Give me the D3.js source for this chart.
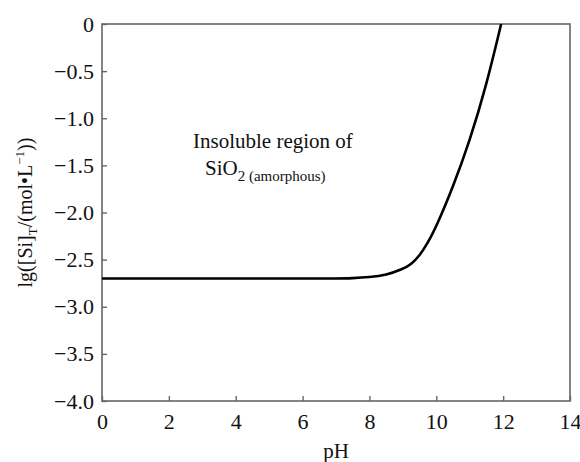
<!DOCTYPE html>
<html>
<head>
<meta charset="utf-8">
<script src="https://cdn.jsdelivr.net/npm/d3@7"></script>
<style>
  body { margin: 0; background: #fff; }
  svg text { font-family: "Liberation Serif", "Times New Roman", "DejaVu Serif", serif !important; fill: #111; }
</style>
</head>
<body>
<svg id="chart" width="580" height="462"></svg>
<script>
// values
const pH = [0, 2, 4, 6, 7, 7.5, 8, 8.5, 9, 9.25, 9.5, 9.75, 10, 10.5, 11, 11.5, 11.94];
const lgSi = [-2.70, -2.70, -2.70, -2.70, -2.70, -2.697, -2.687, -2.665, -2.60, -2.55, -2.46, -2.32, -2.15, -1.73, -1.24, -0.65, 0];
const xTicks = [0, 2, 4, 6, 8, 10, 12, 14];
const yTicks = [0, -0.5, -1.0, -1.5, -2.0, -2.5, -3.0, -3.5, -4.0];

const svg = d3.select("#chart");
const margin = {top: 24, right: 10, bottom: 61, left: 102};
const width = +svg.attr("width");
const height = +svg.attr("height");
const serif = "Liberation Serif, Times New Roman, serif";

const x = d3.scaleLinear().domain([0, 14]).range([margin.left, width - margin.right]);
const y = d3.scaleLinear().domain([-4, 0]).range([height - margin.bottom, margin.top]);

const axisColor = "#666";

// frame
svg.append("rect")
  .attr("x", x(0)).attr("y", y(0))
  .attr("width", x(14) - x(0)).attr("height", y(-4) - y(0))
  .attr("fill", "none").attr("stroke", axisColor).attr("stroke-width", 1.6);

const xAxis = g => g
  .attr("transform", `translate(0,${y(-4)})`)
  .call(d3.axisBottom(x).tickValues(xTicks).tickSizeInner(-5).tickSizeOuter(0).tickPadding(12))
  .call(g => g.select(".domain").remove());

const yAxis = g => g
  .attr("transform", `translate(${x(0)},0)`)
  .call(d3.axisLeft(y).tickValues(yTicks).tickSizeInner(-5).tickSizeOuter(0).tickPadding(8)
    .tickFormat(d => d === 0 ? "0" : d3.format(".1f")(d)))
  .call(g => g.select(".domain").remove());

svg.append("g").call(xAxis).attr("font-family", serif);
svg.append("g").call(yAxis).attr("font-family", serif);

svg.selectAll(".tick line").attr("stroke", axisColor).attr("stroke-width", 1.4);
svg.selectAll(".tick text")
  .attr("font-family", serif).attr("font-size", 22).attr("fill", "#111");

// curve
const line = d3.line()
  .x((d, i) => x(pH[i]))
  .y(d => y(d))
  .curve(d3.curveBasis);

svg.append("path")
  .datum(lgSi)
  .attr("fill", "none")
  .attr("stroke", "#000")
  .attr("stroke-width", 2.6)
  .attr("stroke-linejoin", "round")
  .attr("d", line);

// axis titles
svg.append("text")
  .attr("x", (x(0) + x(14)) / 2).attr("y", 458)
  .attr("text-anchor", "middle").attr("font-size", 21)
  .text("pH");

const yl = svg.append("text")
  .attr("transform", `translate(32,${(y(0) + y(-4)) / 2}) rotate(-90)`)
  .attr("text-anchor", "middle").attr("font-size", 20);
yl.append("tspan").text("lg([Si]");
yl.append("tspan").attr("font-size", 13).attr("dy", 5).text("T");
yl.append("tspan").attr("dy", -5).text("/(mol\u2022L");
yl.append("tspan").attr("font-size", 13).attr("dy", -8).text("\u22121");
yl.append("tspan").attr("dy", 8).text("))");

// annotation
svg.append("text")
  .attr("x", 193).attr("y", 148).attr("font-size", 21)
  .text("Insoluble region of");

const sio = svg.append("text")
  .attr("x", 205).attr("y", 175).attr("font-size", 21);
sio.append("tspan").text("SiO");
sio.append("tspan").attr("font-size", 15).attr("dy", 6).text("2");
sio.append("tspan").attr("font-size", 15).text(" (amorphous)");
</script>
</body>
</html>
